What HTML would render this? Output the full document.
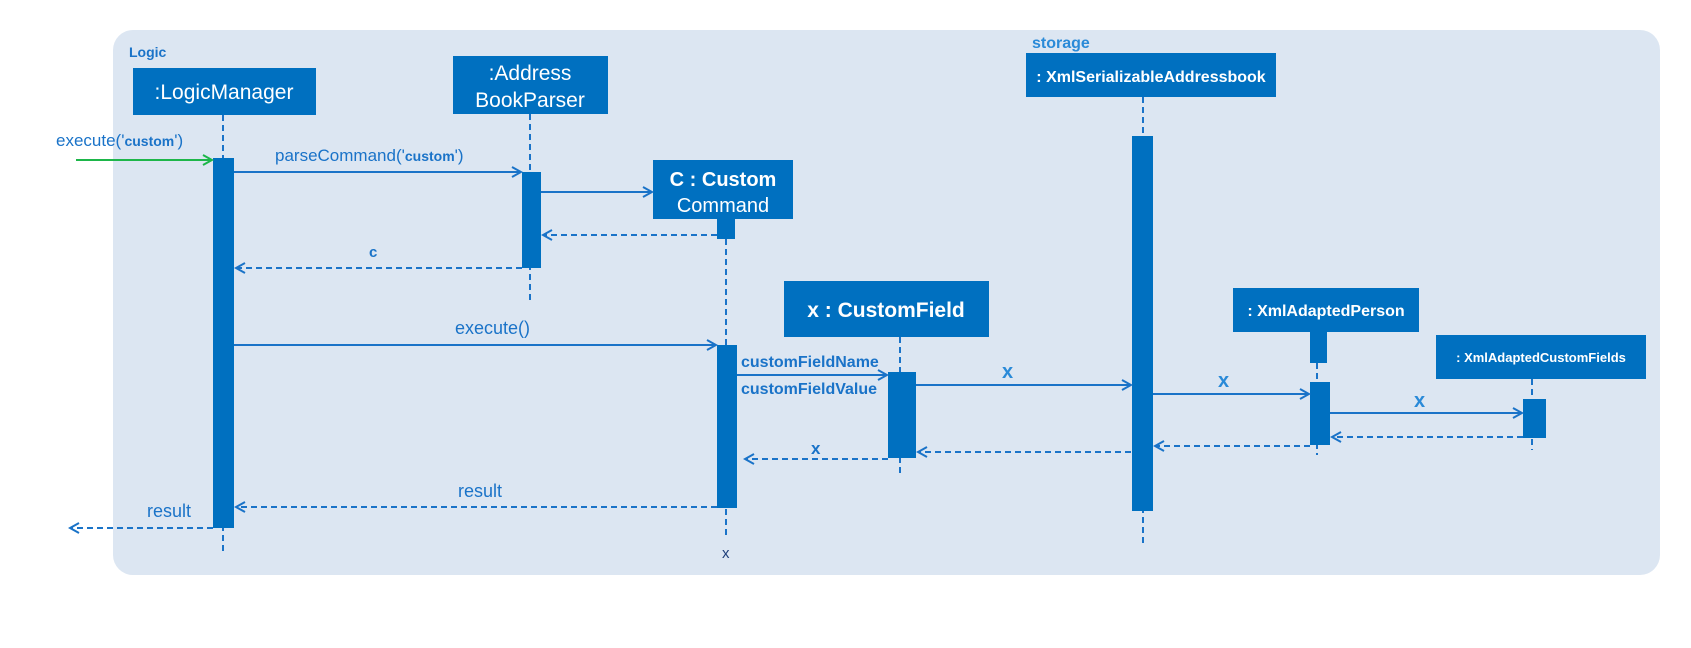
<!DOCTYPE html>
<html><head><meta charset="utf-8"><style>
html,body{margin:0;padding:0;background:#fff;width:1691px;height:648px;overflow:hidden}
svg text{font-family:"Liberation Sans",sans-serif}
</style></head><body>
<svg width="1691" height="648" xmlns="http://www.w3.org/2000/svg">
<defs>
<marker id="a" markerWidth="12" markerHeight="12" refX="10" refY="6" orient="auto" markerUnits="userSpaceOnUse"><path d="M1,1 L10,6 L1,11" fill="none" stroke="#1a73c8" stroke-width="2"/></marker>
<marker id="g" markerWidth="12" markerHeight="12" refX="10" refY="6" orient="auto" markerUnits="userSpaceOnUse"><path d="M1,1 L10,6 L1,11" fill="none" stroke="#1db64a" stroke-width="2"/></marker>
</defs>
<rect x="113" y="30" width="1547" height="545" rx="20" fill="#dce6f2"/>
<text x="129" y="57" font-size="14" font-weight="bold" fill="#1a73c8">Logic</text>
<text x="1032" y="48" font-size="16" font-weight="bold" fill="#2a8ad8">storage</text>

<g stroke="#1a73c8" stroke-width="2" stroke-dasharray="6,4" fill="none">
<line x1="223" y1="115" x2="223" y2="555"/>
<line x1="530" y1="114" x2="530" y2="300"/>
<line x1="726" y1="239" x2="726" y2="536"/>
<line x1="900" y1="337" x2="900" y2="475"/>
<line x1="1143" y1="97" x2="1143" y2="547"/>
<line x1="1317" y1="363" x2="1317" y2="455"/>
<line x1="1532" y1="379" x2="1532" y2="450"/>
</g>

<g fill="#0070c0">
<rect x="133" y="68" width="183" height="47"/>
<rect x="453" y="56" width="155" height="58"/>
<rect x="653" y="160" width="140" height="59"/>
<rect x="717" y="219" width="18" height="20"/>
<rect x="784" y="281" width="205" height="56"/>
<rect x="1026" y="53" width="250" height="44"/>
<rect x="1233" y="288" width="186" height="44"/>
<rect x="1310" y="332" width="17" height="31"/>
<rect x="1436" y="335" width="210" height="44"/>
<rect x="213" y="158" width="21" height="370"/>
<rect x="522" y="172" width="19" height="96"/>
<rect x="717" y="345" width="20" height="163"/>
<rect x="888" y="372" width="28" height="86"/>
<rect x="1132" y="136" width="21" height="375"/>
<rect x="1310" y="382" width="20" height="63"/>
<rect x="1523" y="399" width="23" height="39"/>
</g>

<g fill="#fff" text-anchor="middle">
<text x="224" y="99" font-size="21">:LogicManager</text>
<text x="530" y="80" font-size="21">:Address</text>
<text x="530" y="107" font-size="21">BookParser</text>
<text x="723" y="186" font-size="20" font-weight="bold">C :  Custom</text>
<text x="723" y="212" font-size="20">Command</text>
<text x="886" y="317" font-size="21" font-weight="bold">x    : CustomField</text>
<text x="1151" y="82" font-size="16" font-weight="bold">: XmlSerializableAddressbook</text>
<text x="1326" y="316" font-size="16" font-weight="bold">: XmlAdaptedPerson</text>
<text x="1541" y="362" font-size="13" font-weight="bold">: XmlAdaptedCustomFields</text>
</g>

<g stroke="#1a73c8" stroke-width="2" fill="none">
<line x1="234" y1="172" x2="521" y2="172" marker-end="url(#a)"/>
<line x1="541" y1="192" x2="652" y2="192" marker-end="url(#a)"/>
<line x1="234" y1="345" x2="716" y2="345" marker-end="url(#a)"/>
<line x1="737" y1="375" x2="887" y2="375" marker-end="url(#a)"/>
<line x1="916" y1="385" x2="1131" y2="385" marker-end="url(#a)"/>
<line x1="1153" y1="394" x2="1309" y2="394" marker-end="url(#a)"/>
<line x1="1330" y1="413" x2="1522" y2="413" marker-end="url(#a)"/>
<g stroke-dasharray="6,4">
<line x1="717" y1="235" x2="543" y2="235" marker-end="url(#a)"/>
<line x1="522" y1="268" x2="236" y2="268" marker-end="url(#a)"/>
<line x1="888" y1="459" x2="745" y2="459" marker-end="url(#a)"/>
<line x1="1131" y1="452" x2="918" y2="452" marker-end="url(#a)"/>
<line x1="1310" y1="446" x2="1155" y2="446" marker-end="url(#a)"/>
<line x1="1523" y1="437" x2="1332" y2="437" marker-end="url(#a)"/>
<line x1="717" y1="507" x2="236" y2="507" marker-end="url(#a)"/>
<line x1="213" y1="528" x2="70" y2="528" marker-end="url(#a)"/>
</g>
</g>
<line x1="76" y1="160" x2="212" y2="160" stroke="#1db64a" stroke-width="2" marker-end="url(#g)"/>

<g fill="#1a73c8">
<text x="56" y="146" font-size="17">execute('<tspan font-size="14" font-weight="bold">custom</tspan>')</text>
<text x="275" y="161" font-size="17">parseCommand('<tspan font-size="14" font-weight="bold">custom</tspan>')</text>
<text x="369" y="257" font-size="15" font-weight="bold">c</text>
<text x="455" y="334" font-size="18">execute()</text>
<text x="741" y="367" font-size="16" font-weight="bold">customFieldName</text>
<text x="741" y="394" font-size="16" font-weight="bold">customFieldValue</text>
<text x="811" y="454" font-size="17" font-weight="bold">x</text>
<text x="1002" y="378" font-size="20" font-weight="bold" fill="#2a8ad8">x</text>
<text x="1218" y="387" font-size="20" font-weight="bold" fill="#2a8ad8">x</text>
<text x="1414" y="407" font-size="20" font-weight="bold" fill="#2a8ad8">x</text>
<text x="458" y="497" font-size="18">result</text>
<text x="147" y="517" font-size="18">result</text>
<text x="722" y="558" font-size="15" fill="#1f3f7a">x</text>
</g>
</svg>
</body></html>
